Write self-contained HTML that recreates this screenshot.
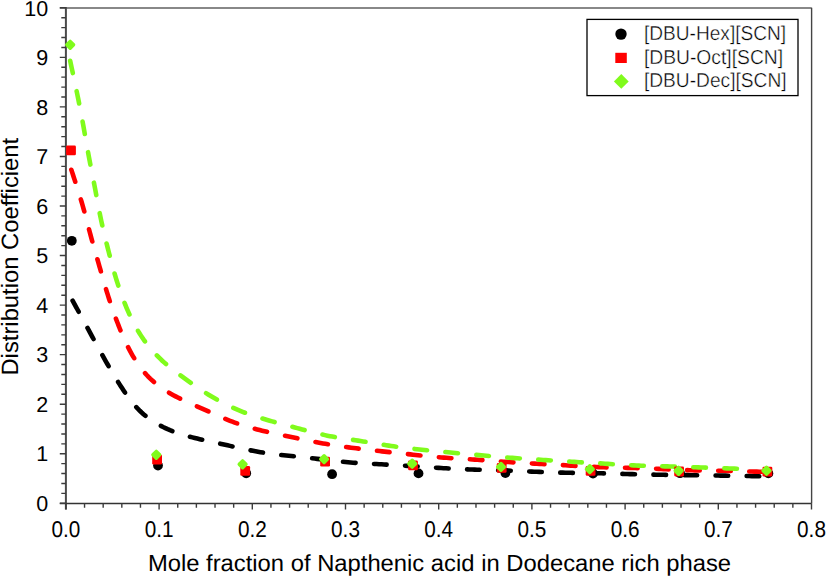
<!DOCTYPE html>
<html><head><meta charset="utf-8"><style>
html,body{margin:0;padding:0;background:#fff;}
svg{display:block;}
text{font-family:"Liberation Sans",sans-serif;text-rendering:geometricPrecision;}
</style></head><body>
<svg width="827" height="576" viewBox="0 0 827 576">
<rect width="827" height="576" fill="#fff"/>
<line x1="59.8" y1="8.05" x2="811.6" y2="8.05" stroke="#606060" stroke-width="1.5"/>
<line x1="811.6" y1="7.8" x2="811.6" y2="503.3" stroke="#444" stroke-width="1.4"/>
<line x1="65.9" y1="7" x2="65.9" y2="509.6" stroke="#4a4a4a" stroke-width="2"/>
<line x1="59.8" y1="503.5" x2="811.6" y2="503.5" stroke="#333" stroke-width="1.5"/>
<path d="M59.8,503.30H65.9 M61.3,493.39H65.9 M61.3,483.48H65.9 M61.3,473.57H65.9 M61.3,463.66H65.9 M59.8,453.75H65.9 M61.3,443.84H65.9 M61.3,433.93H65.9 M61.3,424.02H65.9 M61.3,414.11H65.9 M59.8,404.20H65.9 M61.3,394.29H65.9 M61.3,384.38H65.9 M61.3,374.47H65.9 M61.3,364.56H65.9 M59.8,354.65H65.9 M61.3,344.74H65.9 M61.3,334.83H65.9 M61.3,324.92H65.9 M61.3,315.01H65.9 M59.8,305.10H65.9 M61.3,295.19H65.9 M61.3,285.28H65.9 M61.3,275.37H65.9 M61.3,265.46H65.9 M59.8,255.55H65.9 M61.3,245.64H65.9 M61.3,235.73H65.9 M61.3,225.82H65.9 M61.3,215.91H65.9 M59.8,206.00H65.9 M61.3,196.09H65.9 M61.3,186.18H65.9 M61.3,176.27H65.9 M61.3,166.36H65.9 M59.8,156.45H65.9 M61.3,146.54H65.9 M61.3,136.63H65.9 M61.3,126.72H65.9 M61.3,116.81H65.9 M59.8,106.90H65.9 M61.3,96.99H65.9 M61.3,87.08H65.9 M61.3,77.17H65.9 M61.3,67.26H65.9 M59.8,57.35H65.9 M61.3,47.44H65.9 M61.3,37.53H65.9 M61.3,27.62H65.9 M61.3,17.71H65.9 M59.8,7.80H65.9 M65.90,503.3V509.6 M84.54,503.3V507.7 M103.18,503.3V507.7 M121.82,503.3V507.7 M140.46,503.3V507.7 M159.10,503.3V509.6 M177.74,503.3V507.7 M196.38,503.3V507.7 M215.02,503.3V507.7 M233.66,503.3V507.7 M252.30,503.3V509.6 M270.94,503.3V507.7 M289.58,503.3V507.7 M308.22,503.3V507.7 M326.86,503.3V507.7 M345.50,503.3V509.6 M364.14,503.3V507.7 M382.78,503.3V507.7 M401.42,503.3V507.7 M420.06,503.3V507.7 M438.70,503.3V509.6 M457.34,503.3V507.7 M475.98,503.3V507.7 M494.62,503.3V507.7 M513.26,503.3V507.7 M531.90,503.3V509.6 M550.54,503.3V507.7 M569.18,503.3V507.7 M587.82,503.3V507.7 M606.46,503.3V507.7 M625.10,503.3V509.6 M643.74,503.3V507.7 M662.38,503.3V507.7 M681.02,503.3V507.7 M699.66,503.3V507.7 M718.30,503.3V509.6 M736.94,503.3V507.7 M755.58,503.3V507.7 M774.22,503.3V507.7 M792.86,503.3V507.7 M811.50,503.3V509.6" stroke="#3c3c3c" stroke-width="1.4" fill="none"/>
<g font-size="21.5" fill="#000"><text x="48.1" y="511.00" text-anchor="end">0</text><text x="48.1" y="461.45" text-anchor="end">1</text><text x="48.1" y="411.90" text-anchor="end">2</text><text x="48.1" y="362.35" text-anchor="end">3</text><text x="48.1" y="312.80" text-anchor="end">4</text><text x="48.1" y="263.25" text-anchor="end">5</text><text x="48.1" y="213.70" text-anchor="end">6</text><text x="48.1" y="164.15" text-anchor="end">7</text><text x="48.1" y="114.60" text-anchor="end">8</text><text x="48.1" y="65.05" text-anchor="end">9</text><text x="48.1" y="15.50" text-anchor="end">10</text><text transform="translate(65.90,536.8) scale(0.91,1)" font-size="22.8" text-anchor="middle">0.0</text><text transform="translate(159.10,536.8) scale(0.91,1)" font-size="22.8" text-anchor="middle">0.1</text><text transform="translate(252.30,536.8) scale(0.91,1)" font-size="22.8" text-anchor="middle">0.2</text><text transform="translate(345.50,536.8) scale(0.91,1)" font-size="22.8" text-anchor="middle">0.3</text><text transform="translate(438.70,536.8) scale(0.91,1)" font-size="22.8" text-anchor="middle">0.4</text><text transform="translate(531.90,536.8) scale(0.91,1)" font-size="22.8" text-anchor="middle">0.5</text><text transform="translate(625.10,536.8) scale(0.91,1)" font-size="22.8" text-anchor="middle">0.6</text><text transform="translate(718.30,536.8) scale(0.91,1)" font-size="22.8" text-anchor="middle">0.7</text><text transform="translate(811.50,536.8) scale(0.91,1)" font-size="22.8" text-anchor="middle">0.8</text></g>
<text x="147.9" y="571.3" font-size="23.3" textLength="583.2" lengthAdjust="spacingAndGlyphs">Mole fraction of Napthenic acid in Dodecane rich phase</text>
<text transform="translate(18.2,375.6) rotate(-90)" x="0" y="0" font-size="23.6" textLength="237.8" lengthAdjust="spacingAndGlyphs">Distribution Coefficient</text>
<path d="M72.61,300.66 L73.82,302.87 L75.03,305.08 L76.24,307.29 L77.45,309.51 L78.65,311.72 M87.50,327.93 L88.71,330.15 L89.91,332.36 L91.11,334.58 L92.31,336.79 L93.52,339.01 M102.39,355.21 L103.62,357.41 L104.85,359.60 L106.09,361.80 L107.34,363.99 L108.60,366.17 M118.10,382.01 L119.45,384.14 L120.81,386.26 L122.18,388.37 L123.57,390.48 L124.98,392.56 M136.30,407.14 L138.02,408.98 L139.80,410.77 L141.63,412.51 L143.51,414.18 L145.44,415.80 M160.87,425.90 L163.12,427.05 L165.39,428.14 L167.68,429.18 L170.00,430.17 L172.34,431.10 M189.92,436.74 L192.36,437.38 L194.80,438.00 L197.25,438.60 L199.70,439.18 L202.16,439.75 M220.20,443.71 L222.66,444.25 L225.12,444.78 L227.58,445.33 L230.04,445.88 L232.50,446.44 M250.55,450.37 L253.02,450.86 L255.50,451.32 L257.98,451.76 L260.47,452.18 L262.95,452.57 M281.27,454.95 L283.78,455.23 L286.28,455.51 L288.79,455.78 L291.29,456.05 L293.80,456.31 M312.17,458.28 L314.67,458.56 L317.17,458.85 L319.68,459.14 L322.18,459.44 L324.68,459.74 M343.03,461.83 L345.54,462.08 L348.05,462.31 L350.56,462.52 L353.07,462.72 L355.59,462.90 M374.03,463.94 L376.55,464.07 L379.06,464.19 L381.58,464.32 L384.10,464.46 L386.61,464.60 M405.05,465.71 L407.57,465.87 L410.08,466.03 L412.60,466.20 L415.11,466.36 L417.63,466.53 M436.06,467.72 L438.57,467.88 L441.09,468.03 L443.61,468.18 L446.12,468.32 L448.64,468.47 M467.09,469.36 L469.61,469.46 L472.12,469.55 L474.64,469.64 L477.16,469.72 L479.68,469.80 M498.15,470.31 L500.66,470.38 L503.18,470.46 L505.70,470.55 L508.22,470.63 L510.74,470.73 M529.20,471.48 L531.71,471.59 L534.23,471.70 L536.75,471.80 L539.27,471.90 L541.79,472.00 M560.25,472.60 L562.77,472.67 L565.29,472.72 L567.81,472.77 L570.33,472.82 L572.85,472.86 M591.32,473.10 L593.84,473.14 L596.36,473.18 L598.87,473.23 L601.39,473.28 L603.91,473.34 M622.38,473.86 L624.90,473.94 L627.42,474.01 L629.94,474.08 L632.45,474.15 L634.97,474.22 M653.44,474.63 L655.96,474.68 L658.48,474.73 L661.00,474.77 L663.52,474.81 L666.04,474.85 M684.51,475.11 L687.03,475.15 L689.55,475.18 L692.07,475.21 L694.59,475.24 L697.11,475.27 M715.58,475.51 L718.10,475.55 L720.62,475.58 L723.14,475.62 L725.66,475.66 L728.18,475.70 M746.65,476.00 L749.17,476.04 L751.69,476.08 L754.21,476.12 L756.73,476.17 L759.25,476.21" fill="none" stroke="#000000" stroke-width="4.6" stroke-linecap="round" stroke-linejoin="round"/>
<path d="M71.34,169.76 L72.12,172.15 L72.90,174.55 L73.69,176.94 L74.47,179.34 L75.26,181.73 M80.82,199.36 L81.54,201.77 L82.25,204.19 L82.95,206.61 L83.63,209.04 L84.29,211.47 M89.02,229.33 L89.66,231.77 L90.31,234.21 L90.97,236.64 L91.64,239.07 L92.31,241.50 M97.39,259.26 L98.09,261.68 L98.79,264.11 L99.48,266.53 L100.18,268.95 L100.87,271.38 M106.02,289.12 L106.75,291.54 L107.49,293.94 L108.25,296.35 L109.01,298.75 L109.79,301.14 M115.91,318.58 L116.80,320.94 L117.70,323.29 L118.61,325.64 L119.54,327.99 L120.48,330.32 M128.06,347.17 L129.22,349.41 L130.40,351.64 L131.62,353.84 L132.88,356.03 L134.17,358.19 M145.02,373.12 L146.71,374.99 L148.45,376.82 L150.24,378.59 L152.08,380.31 L153.97,381.97 M169.01,392.68 L171.18,393.95 L173.38,395.19 L175.60,396.38 L177.84,397.54 L180.09,398.67 M196.91,406.32 L199.22,407.33 L201.53,408.34 L203.83,409.36 L206.13,410.39 L208.43,411.43 M225.34,418.88 L227.67,419.84 L230.01,420.77 L232.36,421.67 L234.73,422.55 L237.10,423.39 M254.77,428.80 L257.21,429.44 L259.65,430.06 L262.09,430.67 L264.54,431.26 L267.00,431.83 M285.06,435.73 L287.53,436.24 L290.00,436.75 L292.47,437.26 L294.93,437.78 L297.40,438.30 M315.50,442.00 L317.98,442.47 L320.46,442.94 L322.94,443.39 L325.42,443.82 L327.90,444.25 M346.17,447.02 L348.67,447.36 L351.17,447.69 L353.67,448.01 L356.17,448.33 L358.67,448.64 M377.02,450.78 L379.53,451.06 L382.03,451.34 L384.54,451.61 L387.04,451.89 L389.55,452.16 M407.92,454.14 L410.43,454.41 L412.93,454.67 L415.44,454.94 L417.95,455.20 L420.45,455.46 M438.85,457.22 L441.36,457.43 L443.87,457.63 L446.38,457.82 L448.90,458.00 L451.41,458.17 M469.86,459.29 L472.37,459.44 L474.89,459.60 L477.40,459.76 L479.92,459.93 L482.43,460.11 M500.86,461.48 L503.37,461.67 L505.89,461.85 L508.40,462.03 L510.92,462.20 L513.43,462.36 M531.88,463.47 L534.39,463.61 L536.91,463.75 L539.43,463.88 L541.94,464.02 L544.46,464.15 M562.91,465.14 L565.43,465.29 L567.95,465.43 L570.46,465.58 L572.98,465.73 L575.49,465.88 M593.94,466.91 L596.46,467.03 L598.98,467.13 L601.50,467.23 L604.02,467.32 L606.53,467.40 M625.01,467.81 L627.53,467.86 L630.05,467.92 L632.57,467.98 L635.09,468.04 L637.61,468.12 M656.07,468.78 L658.59,468.89 L661.11,469.00 L663.63,469.11 L666.14,469.23 L668.66,469.35 M687.12,470.15 L689.64,470.24 L692.16,470.31 L694.68,470.38 L697.20,470.44 L699.72,470.49 M718.20,470.71 L720.72,470.75 L723.24,470.78 L725.76,470.82 L728.28,470.87 L730.80,470.92 M749.27,471.43 L751.79,471.50 L754.31,471.58 L756.83,471.66 L759.35,471.74 L761.86,471.82" fill="none" stroke="#ff0000" stroke-width="4.6" stroke-linecap="round" stroke-linejoin="round"/>
<path d="M70.16,60.78 L70.69,63.24 L71.22,65.71 L71.75,68.17 L72.28,70.63 L72.81,73.10 M76.64,91.15 L77.15,93.62 L77.65,96.09 L78.15,98.56 L78.65,101.03 L79.14,103.50 M82.59,121.63 L83.05,124.11 L83.50,126.58 L83.94,129.06 L84.38,131.55 L84.82,134.03 M88.05,152.20 L88.50,154.68 L88.96,157.15 L89.43,159.63 L89.90,162.11 L90.37,164.58 M93.93,182.69 L94.41,185.16 L94.89,187.64 L95.36,190.11 L95.82,192.59 L96.28,195.07 M99.70,213.20 L100.20,215.67 L100.70,218.14 L101.22,220.61 L101.75,223.07 L102.30,225.53 M106.59,243.48 L107.20,245.92 L107.82,248.36 L108.44,250.80 L109.07,253.25 L109.70,255.68 M114.57,273.48 L115.28,275.90 L116.01,278.31 L116.75,280.72 L117.51,283.13 L118.28,285.52 M124.54,302.88 L125.48,305.22 L126.44,307.55 L127.43,309.87 L128.44,312.18 L129.48,314.47 M138.01,330.83 L139.32,332.98 L140.67,335.11 L142.06,337.21 L143.48,339.29 L144.95,341.33 M156.84,355.43 L158.61,357.22 L160.41,358.98 L162.25,360.71 L164.12,362.40 L166.02,364.06 M180.53,375.44 L182.57,376.93 L184.61,378.40 L186.66,379.87 L188.71,381.34 L190.77,382.79 M206.06,393.12 L208.19,394.46 L210.34,395.78 L212.50,397.08 L214.67,398.35 L216.86,399.60 M233.31,407.95 L235.62,408.97 L237.93,409.96 L240.26,410.92 L242.61,411.84 L244.96,412.74 M262.47,418.57 L264.88,419.29 L267.30,420.00 L269.72,420.69 L272.15,421.38 L274.58,422.05 M292.40,426.84 L294.83,427.49 L297.27,428.14 L299.70,428.78 L302.14,429.44 L304.57,430.09 M322.47,434.58 L324.93,435.13 L327.40,435.65 L329.87,436.14 L332.34,436.61 L334.82,437.05 M353.06,439.87 L355.55,440.24 L358.04,440.61 L360.53,441.00 L363.02,441.40 L365.51,441.80 M383.71,444.83 L386.20,445.22 L388.69,445.61 L391.19,445.98 L393.68,446.34 L396.18,446.69 M414.49,448.93 L417.00,449.21 L419.50,449.48 L422.01,449.74 L424.51,450.00 L427.02,450.26 M445.39,452.05 L447.90,452.28 L450.41,452.52 L452.92,452.75 L455.42,452.99 L457.93,453.22 M476.31,454.90 L478.82,455.12 L481.33,455.34 L483.84,455.56 L486.35,455.78 L488.86,456.00 M507.25,457.52 L509.77,457.71 L512.28,457.90 L514.79,458.09 L517.31,458.27 L519.82,458.44 M538.23,459.65 L540.75,459.81 L543.26,459.97 L545.78,460.12 L548.29,460.28 L550.81,460.44 M569.23,461.57 L571.74,461.73 L574.26,461.88 L576.77,462.03 L579.29,462.18 L581.80,462.33 M600.23,463.42 L602.74,463.57 L605.26,463.72 L607.77,463.88 L610.29,464.04 L612.80,464.19 M631.22,465.26 L633.74,465.39 L636.26,465.50 L638.78,465.61 L641.29,465.70 L643.81,465.79 M662.26,466.29 L664.78,466.35 L667.30,466.42 L669.82,466.48 L672.34,466.55 L674.86,466.63 M693.30,467.23 L695.82,467.31 L698.34,467.40 L700.85,467.49 L703.37,467.57 L705.89,467.66 M724.33,468.29 L726.85,468.37 L729.37,468.46 L731.89,468.54 L734.41,468.63 L736.93,468.71" fill="none" stroke="#80fb1c" stroke-width="4.6" stroke-linecap="round" stroke-linejoin="round"/>
<circle cx="71.8" cy="240.8" r="4.9" fill="#000000"/>
<circle cx="158" cy="465.5" r="4.9" fill="#000000"/>
<circle cx="246.2" cy="473.3" r="4.9" fill="#000000"/>
<circle cx="332.1" cy="474.2" r="4.9" fill="#000000"/>
<circle cx="418.5" cy="473.4" r="4.9" fill="#000000"/>
<circle cx="505.4" cy="473" r="4.9" fill="#000000"/>
<circle cx="593" cy="473.5" r="4.9" fill="#000000"/>
<circle cx="680" cy="473.2" r="4.9" fill="#000000"/>
<circle cx="768.4" cy="473.4" r="4.9" fill="#000000"/>
<rect x="66.1" y="145.4" width="9.8" height="9.8" rx="1.3" fill="#ff0000"/>
<rect x="152.2" y="454.8" width="9.8" height="9.8" rx="1.3" fill="#ff0000"/>
<rect x="240.29999999999998" y="465.90000000000003" width="9.8" height="9.8" rx="1.3" fill="#ff0000"/>
<rect x="320.20000000000005" y="456.8" width="9.8" height="9.8" rx="1.3" fill="#ff0000"/>
<rect x="408.1" y="460.5" width="9.8" height="9.8" rx="1.3" fill="#ff0000"/>
<rect x="496.8" y="462.90000000000003" width="9.8" height="9.8" rx="1.3" fill="#ff0000"/>
<rect x="585.7" y="465.90000000000003" width="9.8" height="9.8" rx="1.3" fill="#ff0000"/>
<rect x="674.2" y="466.6" width="9.8" height="9.8" rx="1.3" fill="#ff0000"/>
<rect x="762.5" y="466.8" width="9.8" height="9.8" rx="1.3" fill="#ff0000"/>
<path d="M70.2,41.4 L73.60000000000001,44.8 L70.2,48.199999999999996 L66.8,44.8 Z" fill="#80fb1c" stroke="#80fb1c" stroke-width="3.4" stroke-linejoin="round"/>
<path d="M156.3,451.40000000000003 L159.70000000000002,454.8 L156.3,458.2 L152.9,454.8 Z" fill="#80fb1c" stroke="#80fb1c" stroke-width="3.4" stroke-linejoin="round"/>
<path d="M242.6,460.90000000000003 L246.0,464.3 L242.6,467.7 L239.2,464.3 Z" fill="#80fb1c" stroke="#80fb1c" stroke-width="3.4" stroke-linejoin="round"/>
<path d="M324.1,455.70000000000005 L327.5,459.1 L324.1,462.5 L320.70000000000005,459.1 Z" fill="#80fb1c" stroke="#80fb1c" stroke-width="3.4" stroke-linejoin="round"/>
<path d="M412.2,460.3 L415.59999999999997,463.7 L412.2,467.09999999999997 L408.8,463.7 Z" fill="#80fb1c" stroke="#80fb1c" stroke-width="3.4" stroke-linejoin="round"/>
<path d="M501,463.5 L504.4,466.9 L501,470.29999999999995 L497.6,466.9 Z" fill="#80fb1c" stroke="#80fb1c" stroke-width="3.4" stroke-linejoin="round"/>
<path d="M589.8,465.70000000000005 L593.1999999999999,469.1 L589.8,472.5 L586.4,469.1 Z" fill="#80fb1c" stroke="#80fb1c" stroke-width="3.4" stroke-linejoin="round"/>
<path d="M678.6,467.40000000000003 L682.0,470.8 L678.6,474.2 L675.2,470.8 Z" fill="#80fb1c" stroke="#80fb1c" stroke-width="3.4" stroke-linejoin="round"/>
<path d="M766.5,467.3 L769.9,470.7 L766.5,474.09999999999997 L763.1,470.7 Z" fill="#80fb1c" stroke="#80fb1c" stroke-width="3.4" stroke-linejoin="round"/>
<rect x="587" y="19.4" width="211" height="76.2" fill="#fff" stroke="#000" stroke-width="1.3"/>
<circle cx="621" cy="34.1" r="5.7" fill="#000000"/>
<rect x="615.3" y="52.8" width="11.5" height="10.2" fill="#ff0000"/>
<path d="M621.3,74 L628.7,81.4 L621.3,88.8 L613.9,81.4 Z" fill="#80fb1c"/>
<text x="643.9" y="39.6" font-size="20.2" textLength="142.3" lengthAdjust="spacingAndGlyphs" fill="#000" stroke="#fff" stroke-width="0.4">[DBU-Hex][SCN]</text>
<text x="643.9" y="63.5" font-size="20.2" textLength="139.2" lengthAdjust="spacingAndGlyphs" fill="#000" stroke="#fff" stroke-width="0.4">[DBU-Oct][SCN]</text>
<text x="643.9" y="86.8" font-size="20.2" textLength="142.7" lengthAdjust="spacingAndGlyphs" fill="#000" stroke="#fff" stroke-width="0.4">[DBU-Dec][SCN]</text>
</svg>
</body></html>
